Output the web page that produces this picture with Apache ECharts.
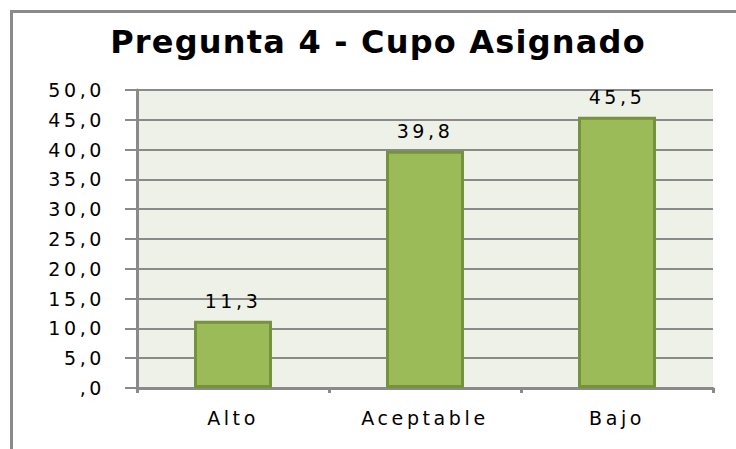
<!DOCTYPE html>
<html>
<head>
<meta charset="utf-8">
<script src="https://cdn.jsdelivr.net/npm/echarts@6/dist/echarts.min.js"></script>
<style>
  html, body { margin: 0; padding: 0; background: #fff; }
  #chart { width: 736px; height: 449px; }
  /* the reference text is stretched wide, so space the letters out a bit */
  #chart text { letter-spacing: 3.6px; }
  #chart text[style*="bold"] { letter-spacing: 1.2px; }
</style>
</head>
<body>
<div id="chart"></div>
<script>
const titleText = 'Pregunta 4 - Cupo Asignado'
const categories = ['Alto', 'Aceptable', 'Bajo']
const values = [11.3, 39.8, 45.5]
const yMin = 0
const yMax = 50
const yStep = 5

const gray = '#8a8a8a'

function toComma(v) {
  if (v === 0) {
    return ',0'
  }
  return v.toFixed(1).replace('.', ',')
}

const chart = echarts.init(document.getElementById('chart'), null, { renderer: 'svg' })

chart.setOption({
  animation: false,
  backgroundColor: '#fff',
  textStyle: { fontFamily: 'DejaVu Sans' },
  title: {
    text: titleText,
    left: 378,
    top: 26,
    padding: 0,
    textAlign: 'center',
    textStyle: { fontFamily: 'DejaVu Sans', fontWeight: 'bold', fontSize: 32, color: '#000' }
  },
  graphic: [
    {
      type: 'rect',
      z: -1,
      shape: { x: 11.5, y: 11.5, width: 800, height: 500 },
      style: { fill: 'none', stroke: gray, lineWidth: 3 }
    }
  ],
  grid: {
    left: 137,
    right: 23,
    top: 90,
    bottom: 61,
    show: true,
    backgroundColor: '#eef1e7',
    borderWidth: 0
  },
  xAxis: {
    type: 'category',
    data: categories,
    boundaryGap: true,
    axisLine: { lineStyle: { color: gray, width: 3 } },
    axisTick: { show: true, length: 5, lineStyle: { color: gray, width: 3 } },
    axisLabel: { margin: 20, fontSize: 19, color: '#000' }
  },
  yAxis: {
    type: 'value',
    min: yMin,
    max: yMax,
    interval: yStep,
    axisLine: { show: true, lineStyle: { color: gray, width: 3 } },
    axisTick: { show: true, length: 12, lineStyle: { color: gray, width: 2 } },
    axisLabel: { margin: 32, fontSize: 19, color: '#000', formatter: toComma },
    splitLine: { lineStyle: { color: gray, width: 2 } }
  },
  series: [
    {
      type: 'bar',
      data: values,
      barWidth: 78,
      itemStyle: { color: '#9bbb59', borderColor: '#76923c', borderWidth: 3 },
      label: {
        show: true,
        position: 'top',
        distance: 10,
        fontSize: 19,
        color: '#000',
        formatter: (p) => toComma(p.value)
      }
    }
  ]
})
</script>
</body>
</html>
